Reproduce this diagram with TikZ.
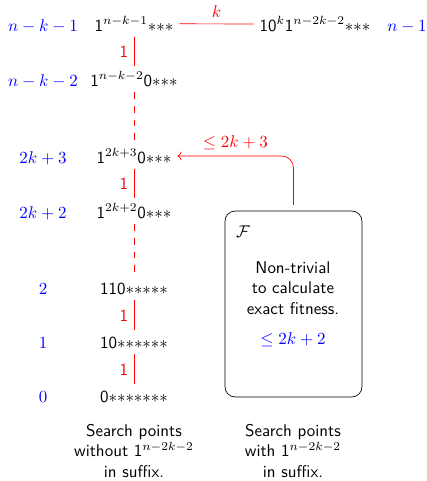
\documentclass[tikz,border=0pt]{standalone}
\usepackage{amsmath,amssymb}
\usepackage{tikz}
\usetikzlibrary{arrows.meta,positioning}

\begin{document}
\begin{tikzpicture}[
  x=0.0207cm, y=-0.0207cm,
  font=\sffamily,
  lvl/.style={anchor=base, text=blue},
  pts/.style={anchor=base},
  onestep/.style={red},
  gapline/.style={red, dash pattern=on 4pt off 4pt},
  fbox/.style={draw, rounded corners=6pt, minimum width=2.836cm, minimum height=3.85cm},
  note/.style={align=center}
]
\useasboundingbox (0,0) rectangle (427,481);

\node[lvl] (l1) at (43,31) {$n-k-1$};
\node[lvl] (l2) at (43,86) {$n-k-2$};
\node[lvl] (l3) at (43,163) {$2k+3$};
\node[lvl] (l4) at (43,218) {$2k+2$};
\node[lvl] (l5) at (43,294) {$2$};
\node[lvl] (l6) at (43,348) {$1$};
\node[lvl] (l7) at (43,402) {$0$};

\node[pts] (s1) at (134,31) {1$^{n-k-1}{\ast}{\ast}{\ast}$};
\node[pts] (s2) at (134,86) {1$^{n-k-2}$0${\ast}{\ast}{\ast}$};
\node[pts] (s3) at (134,163) {1$^{2k+3}$0${\ast}{\ast}{\ast}$};
\node[pts] (s4) at (134,218) {1$^{2k+2}$0${\ast}{\ast}{\ast}$};
\node[pts] (s5) at (134,294) {110${\ast}{\ast}{\ast}{\ast}{\ast}$};
\node[pts] (s6) at (134,348) {10${\ast}{\ast}{\ast}{\ast}{\ast}{\ast}$};
\node[pts] (s7) at (134,402) {0${\ast}{\ast}{\ast}{\ast}{\ast}{\ast}{\ast}$};

\node[pts] (s0) at (315,31) {10$^k$1$^{n-2k-2}{\ast}{\ast}{\ast}$};
\node[lvl] (l0) at (407,31) {$n-1$};

\draw[red] (s1.east) -- node[above] {$k$} (s0.west);
\draw[onestep] (s1.south) -- node[left] {1} (s2.north);
\draw[gapline] (s2.south) -- (s3.north);
\draw[onestep] (s3.south) -- node[left] {1} (s4.north);
\draw[gapline] (s4.south) -- (s5.north);
\draw[onestep] (s5.south) -- node[left] {1} (s6.north);
\draw[onestep] (s6.south) -- node[left] {1} (s7.north);

\node[fbox] (F) at (293.5,304) {};
\node[below right=3.1mm and 2.3mm of F.north west, inner sep=0pt] (Fname) {$\mathcal{F}$};
\node[note] (Ftext) at (293,288) {Non-trivial\\to calculate\\exact fitness.};
\node[text=blue] (Fbound) at (293,340) {$\le 2k+2$};

\draw[->, red, rounded corners=7pt, shorten <=3.5pt] (F.north) |- node[above, pos=0.75] {$\le 2k+3$} (s3.east);

\node[note] (cap1) at (134,451) {Search points\\without 1$^{n-2k-2}$\\in suffix.};
\node[note] (cap2) at (293,451) {Search points\\with 1$^{n-2k-2}$\\in suffix.};
\end{tikzpicture}
\end{document}
